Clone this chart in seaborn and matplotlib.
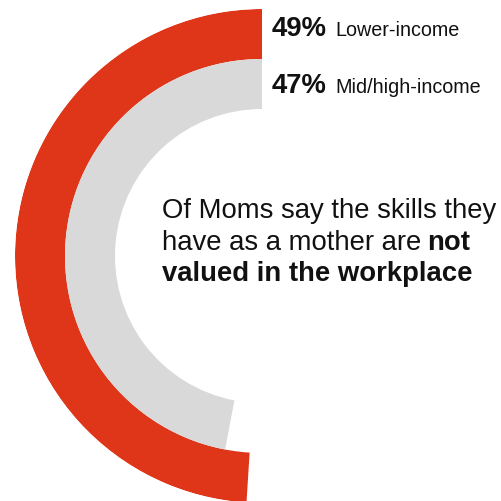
import numpy as np
import matplotlib
matplotlib.use("Agg")
import matplotlib.pyplot as plt
import matplotlib.transforms as mtrans
import seaborn as sns

# Share of moms who say their mothering skills are not valued at work
groups = ["Lower-income", "Mid/high-income"]
shares = [49, 47]
pct_labels = ["49%", "47%"]

ring_colors = ["#DF3619", "#D9D9D9"]

sns.set_theme(style="white")
plt.rcParams["font.family"] = ["Liberation Sans", "DejaVu Sans"]

W, H = 501, 502
fig = plt.figure(figsize=(W / 100, H / 100), dpi=100)
fig.patch.set_facecolor("white")

# polar axes centred at (262, 257) px with outer radius 247 px
cx, cy, R = 262, 257, 247
ax = fig.add_axes([(cx - R) / W, (H - cy - R) / H, 2 * R / W, 2 * R / H],
                  projection="polar")
ax.set_theta_zero_location("N")
ax.set_theta_direction(1)
ax.set_ylim(0, R)

ring_width = 50
for i, (share, col) in enumerate(zip(shares, ring_colors)):
    bottom = R - ring_width * (i + 1)
    ax.bar(0, ring_width, width=share / 100 * 2 * np.pi, bottom=bottom,
           align="edge", color=col, edgecolor="none", linewidth=0)
ax.set_axis_off()

# ring labels
baselines = [35.7, 93.0]
for lab, grp, yb in zip(pct_labels, groups, baselines):
    fig.text(272 / W, 1 - yb / H, lab, fontsize=19.8, fontweight="bold",
             color="#111111", va="baseline", ha="left")
    fig.text(335 / W, 1 - yb / H, grp, fontsize=14.2,
             color="#111111", va="baseline", ha="left")

# central statement
fs = 19.8
x0 = 162 / W
fig.text(x0, 1 - 218.3 / H, "Of Moms say the skills they", fontsize=fs,
         color="#111111", va="baseline", ha="left")
t2 = fig.text(x0, 1 - 250.5 / H, "have as a mother are", fontsize=fs,
              color="#111111", va="baseline", ha="left")
fig.canvas.draw()
x_not = t2.get_window_extent().x1 + 5.5
fig.text(0, 0, "not", fontsize=fs, fontweight="bold", color="#111111",
         va="baseline", ha="left",
         transform=mtrans.offset_copy(mtrans.IdentityTransform(), fig=fig,
                                      x=x_not, y=(1 - 250.5 / H) * H,
                                      units="dots"))
fig.text(x0, 1 - 281.5 / H, "valued in the workplace", fontsize=fs,
         fontweight="bold", color="#111111", va="baseline", ha="left")

fig.savefig("out.png", dpi=100, facecolor="white")
